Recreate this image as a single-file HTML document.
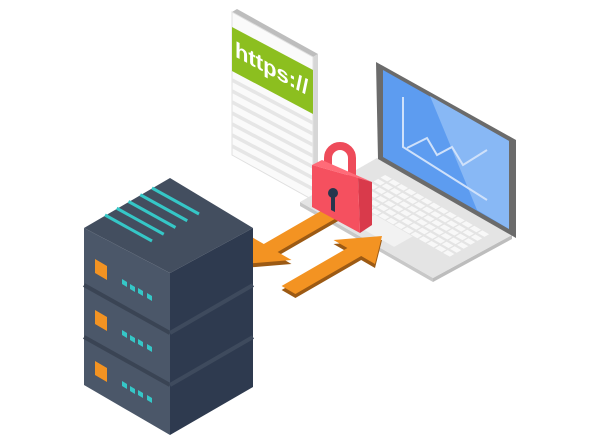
<!DOCTYPE html>
<html><head><style>html,body{margin:0;padding:0;background:#fff;}svg{display:block}</style></head>
<body>
<svg width="600" height="443" viewBox="0 0 600 443" xmlns="http://www.w3.org/2000/svg">
<!-- document -->
<polygon points="232,12 237,9 318,54 313,57" fill="#bdbdbd"/>
<polygon points="313,57 318,54 318,198 313,200" fill="#d6d6d6"/>
<polygon points="232,12 313,57 313,200 232,155" fill="#fafafa" stroke="#e0e0e0" stroke-width="1"/>
<polygon points="232,27 313,70 313,114 232,71" fill="#8cbf1f"/>
<g fill="#e6e6e6">
<polygon points="232,78 313,121 313,125 232,82"/>
<polygon points="232,89 313,132 313,136 232,93"/>
<polygon points="232,100 313,143 313,147 232,104"/>
<polygon points="232,111 313,154 313,158 232,115"/>
<polygon points="232,122 313,165 313,169 232,126"/>
<polygon points="232,133 313,176 313,180 232,137"/>
<polygon points="232,144 313,187 313,191 232,148"/>
</g>
<g transform="matrix(1,0.53,0,1,0,0)">
<text x="235" y="-68" font-family="Liberation Sans, sans-serif" font-weight="bold" font-size="22" fill="#fff">https://</text>
</g>
<!-- laptop base -->
<polygon points="300,202 433,278 433,282 300,206" fill="#c8c8c8"/>
<polygon points="433,278 512,235 512,239 433,282" fill="#bdbdbd"/>
<polygon points="377,158 512,235 433,278 300,202" fill="#e4e4e4"/>
<g transform="matrix(135,77,-77,44,377,158)" fill="#f8f8f8">
<g id="row">
<rect x="0.14" y="0.14" width="0.05" height="0.06"/><rect x="0.2" y="0.14" width="0.05" height="0.06"/><rect x="0.26" y="0.14" width="0.05" height="0.06"/><rect x="0.32" y="0.14" width="0.05" height="0.06"/><rect x="0.38" y="0.14" width="0.05" height="0.06"/><rect x="0.44" y="0.14" width="0.05" height="0.06"/><rect x="0.5" y="0.14" width="0.05" height="0.06"/><rect x="0.56" y="0.14" width="0.05" height="0.06"/><rect x="0.62" y="0.14" width="0.05" height="0.06"/><rect x="0.68" y="0.14" width="0.05" height="0.06"/><rect x="0.74" y="0.14" width="0.05" height="0.06"/><rect x="0.8" y="0.14" width="0.05" height="0.06"/><rect x="0.86" y="0.14" width="0.05" height="0.06"/>
</g>
<use href="#row" transform="translate(0,0.09)"/>
<use href="#row" transform="translate(0,0.18)"/>
<use href="#row" transform="translate(0,0.27)"/>
<use href="#row" transform="translate(0,0.36)"/>
<use href="#row" transform="translate(0,0.45)"/>
<rect x="0.36" y="0.66" width="0.28" height="0.24" fill="#f2f2f2"/>
</g>
<!-- screen -->
<polygon points="376,62 516,140 516,238 378,159" fill="#6b6b6b"/>
<polygon points="383,70 509,141 509,229 383,157" fill="#5d9cf0"/>
<polygon points="430,96 509,141 509,229 477,210" fill="#88b8f5"/>
<g stroke="#cfe1fa" stroke-width="2" fill="none">
<polyline points="403,97 403,147 487,200"/>
<polyline points="407,148 427,138 437,155 452,147 463,165 487,150"/>
</g>
<!-- arrow 1 -->
<g transform="translate(0,4)" fill="#9c5a14">
<polygon points="243,264 291.5,260 277.6,252 340.8,215.5 327,207.5 263.8,244 249.9,236"/>
</g>
<polygon points="243,264 291.5,260 277.6,252 340.8,215.5 327,207.5 263.8,244 249.9,236" fill="#f39322"/>
<!-- server -->
<polygon points="170,178 253,228 170,273 84,228" fill="#434e5f"/>
<polygon points="84,228 170,273 170,435 84,385" fill="#4b5769"/>
<polygon points="170,273 253,228 253,387 170,435" fill="#2e3a4f"/>
<g stroke="#3a4454" stroke-width="4">
<line x1="84" y1="285" x2="170" y2="333"/><line x1="84" y1="337" x2="170" y2="385"/>
</g>
<g stroke="#3e4a5d" stroke-width="4">
<line x1="170" y1="333" x2="253" y2="285"/><line x1="170" y1="385" x2="253" y2="337"/>
</g>
<g stroke="#35c7c7" stroke-width="3">
<line x1="105" y1="215" x2="152" y2="241"/>
<line x1="116.75" y1="208.25" x2="163.75" y2="234.25"/>
<line x1="128.5" y1="201.5" x2="175.5" y2="227.5"/>
<line x1="140.25" y1="194.75" x2="187.25" y2="220.75"/>
<line x1="152" y1="188" x2="199" y2="214"/>
</g>
<g id="unit">
<polygon points="95,259 107,266 107,280 95,273" fill="#f39322"/>
<g fill="#35c7c7">
<polygon points="122,279 127,282 127,287 122,284"/>
<polygon points="130,284 135,287 135,292 130,289"/>
<polygon points="138,288 143,291 143,296 138,293"/>
<polygon points="147,293 152,296 152,301 147,298"/>
</g>
</g>
<use href="#unit" transform="translate(0,51)"/>
<use href="#unit" transform="translate(0,102)"/>
<!-- arrow 2 -->
<g transform="translate(0,4)" fill="#9c5a14">
<polygon points="382,236 333.5,240 347.4,248 281.6,286 295.4,294 361.2,256 375,264"/>
</g>
<polygon points="382,236 333.5,240 347.4,248 281.6,286 295.4,294 361.2,256 375,264" fill="#f39322"/>
<!-- lock -->
<path d="M328,168 L328,158 A12,12 0 0 1 352,158 L352,178" fill="none" stroke="#ee4b5a" stroke-width="8"/>
<polygon points="312,165 322,160 372,182 358,178" fill="#ff6b78"/>
<polygon points="358,178 372,182 372,225 360,233" fill="#d93a4b"/>
<polygon points="312,165 358,178 360,233 312,207" fill="#f5505f"/>
<circle cx="333" cy="193" r="5" fill="#27364d"/>
<polygon points="331,194 335,194 335,212 331,210" fill="#27364d"/>
</svg>
</body></html>
